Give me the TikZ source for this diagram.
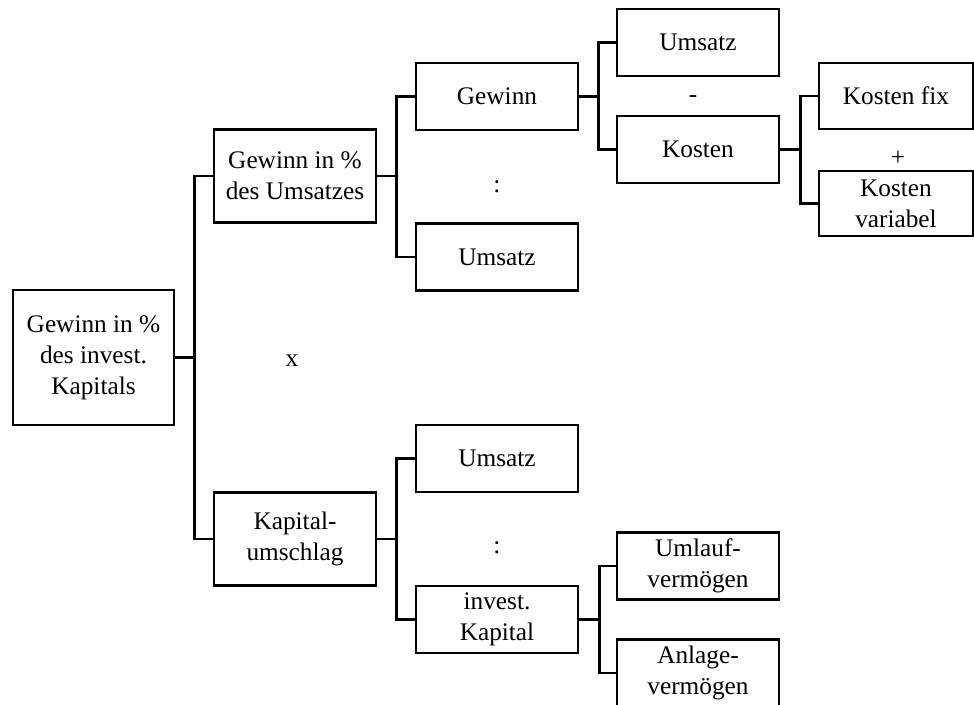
\documentclass[tikz,border=0pt]{standalone}
\usepackage{fontspec}
\setmainfont{Liberation Serif}

\begin{document}
\begin{tikzpicture}[
  x=0.02cm,
  y=-0.02cm,
  box/.style={
      rectangle,
      draw,
      line width=1.6pt,
      text centered,
      align=center,
      minimum height=1.34cm,
      minimum width=3.24cm,
      inner sep=0pt,
      font=\fontsize{14.4}{17.6}\selectfont,
      fill=white
  },
  tallbox/.style={
      box,
      minimum height=1.86cm
  },
  op/.style={
      inner sep=0pt,
      font=\fontsize{14.4}{17.6}\selectfont
  },
  link/.style={
      line width=1.6pt
  }
]

\useasboundingbox (0,0) rectangle (974,704);

% ==================================================
% Root
% ==================================================

\node[box,
      minimum width=3.22cm,
      minimum height=2.7cm]
      (root) at (93.5,357.5)
      {Gewinn in \%\\ des invest.\\ Kapitals};

% ==================================================
% First level
% ==================================================

\node[tallbox]
      (gus) at (295,176)
      {Gewinn in \%\\ des Umsatzes};

\node[tallbox]
      (kum) at (295,539)
      {Kapital-\\ umschlag};

\node[op] (mal) at (292,361) {x};

% ==================================================
% Second level
% ==================================================

\node[box] (gew) at (497,96.5) {Gewinn};
\node[box] (umsa) at (497,257) {Umsatz};
\node[op] (div1) at (497,187) {:};

\node[box] (umsb) at (497,458.5) {Umsatz};
\node[box] (ikap) at (497,619.5) {invest.\\ Kapital};
\node[op] (div2) at (497,548) {:};

% ==================================================
% Third level
% ==================================================

\node[box] (umsc) at (698,42.5) {Umsatz};
\node[box] (kos) at (698,149.5) {Kosten};
\node[op] (minus) at (693,99) {-};

\node[box] (ulv) at (698,566) {Umlauf-\\ vermögen};
\node[box] (alv) at (698,673) {Anlage-\\ vermögen};

% ==================================================
% Fourth level
% ==================================================

\node[box,
      minimum width=3.08cm,
      minimum height=1.32cm]
      (kfix) at (896,96)
      {Kosten fix};

\node[box,
      minimum width=3.08cm,
      minimum height=1.3cm]
      (kvar) at (896,203.5)
      {Kosten\\ variabel};

\node[op] (plus) at (898,158) {+};

% ==================================================
% Brackets
% ==================================================

\draw[link] (root.east) -- ++(19,0) |- (gus.west);
\draw[link] (root.east) -- ++(19,0) |- (kum.west);

\draw[link] (gus.east) -- ++(19,0) |- (gew.west);
\draw[link] (gus.east) -- ++(19,0) |- (umsa.west);

\draw[link] (kum.east) -- ++(19,0) |- (umsb.west);
\draw[link] (kum.east) -- ++(19,0) |- (ikap.west);

\draw[link] (gew.east) -- ++(19,0) |- (umsc.west);
\draw[link] (gew.east) -- ++(19,0) |- (kos.west);

\draw[link] (kos.east) -- ++(20,0) |- (kfix.west);
\draw[link] (kos.east) -- ++(20,0) |- (kvar.west);

\draw[link] (ikap.east) -- ++(20,0) |- (ulv.west);
\draw[link] (ikap.east) -- ++(20,0) |- (alv.west);

\end{tikzpicture}
\end{document}
